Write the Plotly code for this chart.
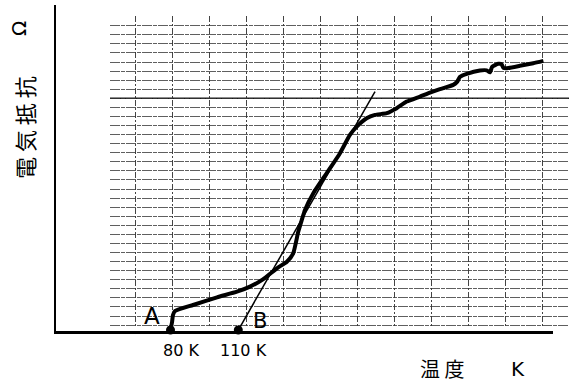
import plotly.graph_objects as go

# ---- data (temperature K, resistance arb. units) ----
temp_K = [80.0, 80.7, 81.1, 82.0, 90.0, 100.6, 109.4, 115.2, 120.9, 127.1, 131.5,
          134.3, 136.5, 138.1, 139.5, 143.2, 149.1, 155.0, 159.4, 162.4, 166.8,
          170.5, 175.7, 180.1, 184.5, 190.4, 194.8, 199.2, 205.1, 206.8, 208.1,
          211.1, 216.9, 219.9, 221.4, 222.3, 225.0, 226.5, 227.3, 228.9, 234.6,
          240.5, 245.0]
resistance = [0.0, 0.89, 1.66, 2.10, 2.77, 3.62, 4.24, 4.80, 5.61, 6.83, 7.56,
              8.49, 10.85, 12.18, 13.29, 15.14, 17.35, 19.57, 21.59, 22.51, 23.44,
              23.81, 24.00, 24.55, 25.28, 25.84, 26.28, 26.66, 27.13, 27.46, 28.02,
              28.35, 28.72, 28.74, 28.52, 29.12, 29.46, 29.42, 29.01, 28.98, 29.24,
              29.53, 29.79]
tangent_K = [110.0, 170.5]
tangent_R = [0.0, 26.39]
point_K = [80.0, 110.0]
point_R = [0.0, 0.0]
point_labels = ["A", "B"]
tick_labels = ["80 K", "110 K"]

W, H = 569, 383

fig = go.Figure()

# data traces on x2/y2 (drawn above the graph-paper grid subplot)
fig.add_trace(go.Scatter(x=temp_K, y=resistance, mode="lines",
                         line=dict(color="black", width=4, shape="spline", smoothing=0.5),
                         xaxis="x2", yaxis="y2", hoverinfo="skip", showlegend=False))
fig.add_trace(go.Scatter(x=tangent_K, y=tangent_R, mode="lines",
                         line=dict(color="black", width=1.5),
                         xaxis="x2", yaxis="y2", hoverinfo="skip", showlegend=False))
fig.add_trace(go.Scatter(x=point_K, y=point_R, mode="markers",
                         marker=dict(color="black", size=9),
                         xaxis="x2", yaxis="y2", cliponaxis=False,
                         hoverinfo="skip", showlegend=False))

def px_x(p):
    return p / W

def px_y(p):
    return 1 - p / H

# graph paper grid subplot (x/y) in pixel-like units
grid_x0, grid_x1 = 110, 569
grid_y0, grid_y1 = 16, 327
fig.update_layout(
    xaxis=dict(domain=[px_x(grid_x0), px_x(grid_x1)], range=[grid_x0, grid_x1],
               tick0=135, dtick=37, showgrid=True, gridcolor="rgba(35,35,35,0.85)",
               gridwidth=1, griddash="6px,2px,2px,2px", showticklabels=False,
               ticks="", zeroline=False, showline=False, fixedrange=True),
    yaxis=dict(domain=[px_y(grid_y1), px_y(grid_y0)], range=[grid_y1, grid_y0],
               tick0=16.7, dtick=9.07, showgrid=True, gridcolor="rgba(55,55,55,0.8)",
               gridwidth=1, griddash="10px,1px,4px,1px", showticklabels=False,
               ticks="", zeroline=False, showline=False, fixedrange=True),
    xaxis2=dict(domain=[px_x(56), px_x(553)], range=[29.34, 249.25], anchor="y2",
                showgrid=False, zeroline=False, showticklabels=False, ticks="",
                showline=True, linecolor="black", linewidth=2.5, fixedrange=True),
    yaxis2=dict(domain=[px_y(331), px_y(5)], range=[-0.11, 35.97], anchor="x2",
                showgrid=False, zeroline=False, showticklabels=False, ticks="",
                showline=True, linecolor="black", linewidth=2, fixedrange=True),
)

# darker rule on the graph paper
fig.add_shape(type="line", xref="x", yref="y", x0=grid_x0, x1=grid_x1,
              y0=16.7 + 9 * 9.07, y1=16.7 + 9 * 9.07,
              line=dict(color="rgba(15,15,15,0.95)", width=1.5), layer="below")

C = dict(xanchor="center", yanchor="middle", showarrow=False)
annotations = []
# A / B labels
annotations.append(dict(x=71.6, y=1.5, xref="x2", yref="y2", text=point_labels[0],
                        font=dict(family="DejaVu Sans", size=23, color="black"), **C))
annotations.append(dict(x=119.6, y=1.05, xref="x2", yref="y2", text=point_labels[1],
                        font=dict(family="DejaVu Sans", size=21, color="black"), **C))
# temperature marks under axis
for k, lab, sh in zip(point_K, tick_labels, [10.5, 5.6]):
    annotations.append(dict(x=k, y=px_y(350), xref="x2", yref="paper", xshift=sh,
                            text=lab, font=dict(family="DejaVu Sans", size=16, color="black"), **C))
# axis titles
annotations.append(dict(x=px_x(442), y=px_y(368), xref="paper", yref="paper",
                        text="温 度", font=dict(family="Noto Sans CJK JP", size=20, color="black"), **C))
annotations.append(dict(x=px_x(517.5), y=px_y(369), xref="paper", yref="paper",
                        text="K", font=dict(family="DejaVu Sans", size=20, color="black"), **C))
annotations.append(dict(x=px_x(24), y=px_y(128), xref="paper", yref="paper",
                        text="電 気 抵 抗", textangle=-90,
                        font=dict(family="Noto Sans CJK JP", size=22, color="black"), **C))
annotations.append(dict(x=px_x(19), y=px_y(29), xref="paper", yref="paper",
                        text="Ω", textangle=-90,
                        font=dict(family="DejaVu Sans", size=20, color="black"), **C))

fig.update_layout(width=W, height=H, margin=dict(l=0, r=0, t=0, b=0),
                  paper_bgcolor="white", plot_bgcolor="rgba(0,0,0,0)",
                  showlegend=False, annotations=annotations)

fig.write_html("out.html", config={"displayModeBar": False},
               post_script="document.body.style.margin='0';")
